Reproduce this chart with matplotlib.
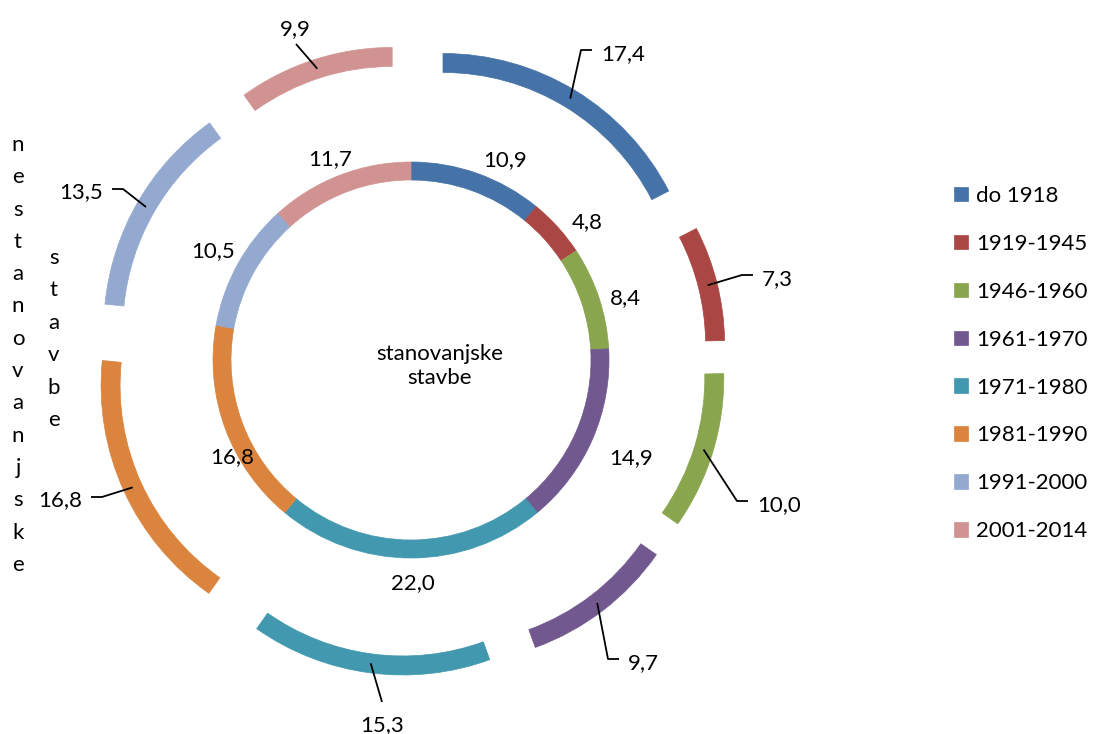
import numpy as np
import matplotlib.pyplot as plt

W, H = 1094, 734

periods = ["do 1918", "1919-1945", "1946-1960", "1961-1970",
           "1971-1980", "1981-1990", "1991-2000", "2001-2014"]
# inner ring: stanovanjske stavbe, outer ring: nestanovanjske stavbe (%)
stanovanjske = [10.9, 4.8, 8.4, 14.9, 22.0, 16.8, 10.5, 11.7]
nestanovanjske = [17.4, 7.3, 10.0, 9.7, 15.3, 16.8, 13.5, 9.9]
colors = ["#4572A7", "#AA4643", "#89A54E", "#71588F",
          "#4198AF", "#DB843D", "#93A9CF", "#D19392"]

FONT = "Lato"
FS = 16


def fmt(v):
    return f"{v:.1f}".replace(".", ",")


def py(y):
    # picture rows are measured from the top
    return H - y


CX, CY = 411, py(360)

fig = plt.figure(figsize=(W / 100, H / 100), dpi=100)
ax = fig.add_axes([0, 0, 1, 1])

inner, _ = ax.pie(stanovanjske, radius=198, center=(CX, CY), startangle=90,
                  counterclock=False, colors=colors,
                  wedgeprops=dict(width=18, linewidth=0.5))
outer, _ = ax.pie(nestanovanjske, radius=254, center=(CX, CY), startangle=90,
                  counterclock=False, colors=colors, explode=[61.5] * 8,
                  wedgeprops=dict(width=19, linewidth=0.5))
for w in inner + outer:
    w.set_edgecolor(w.get_facecolor())

ax.set_xlim(0, W)
ax.set_ylim(0, H)
ax.set_aspect("equal")
ax.axis("off")

txt = dict(fontsize=FS, family=FONT, color="black")
base = 8  # digit centre -> baseline

# inner ring labels (text centres)
inner_pos = [(505, 158), (587, 220), (625, 296), (631, 456),
             (413, 581), (232, 455), (213, 249), (330, 157)]
for v, (x, y) in zip(stanovanjske, inner_pos):
    ax.text(x, py(y + base), fmt(v), ha="center", va="baseline", **txt)

# outer ring labels: anchor point of the text and side of the leader line
outer_pos = [(601, 52, "right"), (762, 277, "right"), (757, 503, "right"),
             (628, 661, "right"), (382, 715, "below"), (82, 498, "left"),
             (103, 190, "left"), (295, 35, "above")]
for w, v, (x, y, side) in zip(outer, nestanovanjske, outer_pos):
    a = np.deg2rad((w.theta1 + w.theta2) / 2)
    rm = w.r - w.width / 2
    sx = w.center[0] + rm * np.cos(a)
    sy = w.center[1] + rm * np.sin(a)
    if side == "right":
        ex, ey = x - 9, py(y - 2)
        xs, ys = [sx, ex - 11, ex], [sy, ey, ey]
        ax.text(x, py(y + base), fmt(v), ha="left", va="baseline", **txt)
    elif side == "left":
        ex, ey = x + 9, py(y - 1)
        xs, ys = [sx, ex + 11, ex], [sy, ey, ey]
        ax.text(x, py(y + base), fmt(v), ha="right", va="baseline", **txt)
    elif side == "below":
        xs, ys = [sx, x], [sy, py(y - 13)]
        ax.text(x, py(y + 16), fmt(v), ha="center", va="baseline", **txt)
    else:
        xs, ys = [sx, x + 1], [sy, py(y + 9)]
        ax.text(x, py(y), fmt(v), ha="center", va="baseline", **txt)
    ax.plot(xs, ys, color="black", lw=1.3, solid_capstyle="butt")

ax.text(440, py(366), "stanovanjske\nstavbe", ha="center", va="center",
        linespacing=1.3, **txt)

# series names written letter by letter down the left side
for k, ch in enumerate("nestanovanjske"):
    ax.text(18, py(151 + 32.3 * k), ch, ha="center", va="baseline", **txt)
for k, ch in enumerate("stavbe"):
    ax.text(54, py(264 + 32.4 * k), ch, ha="center", va="baseline", **txt)

ax.legend(inner, periods, loc="upper left",
          bbox_to_anchor=(954 / W, 1 - 186 / H), frameon=False,
          handlelength=0.63, handleheight=0.63, handletextpad=0.35,
          labelspacing=1.255, borderpad=0, borderaxespad=0,
          prop=dict(family=FONT, size=FS))

fig.savefig("out.png", dpi=100)
